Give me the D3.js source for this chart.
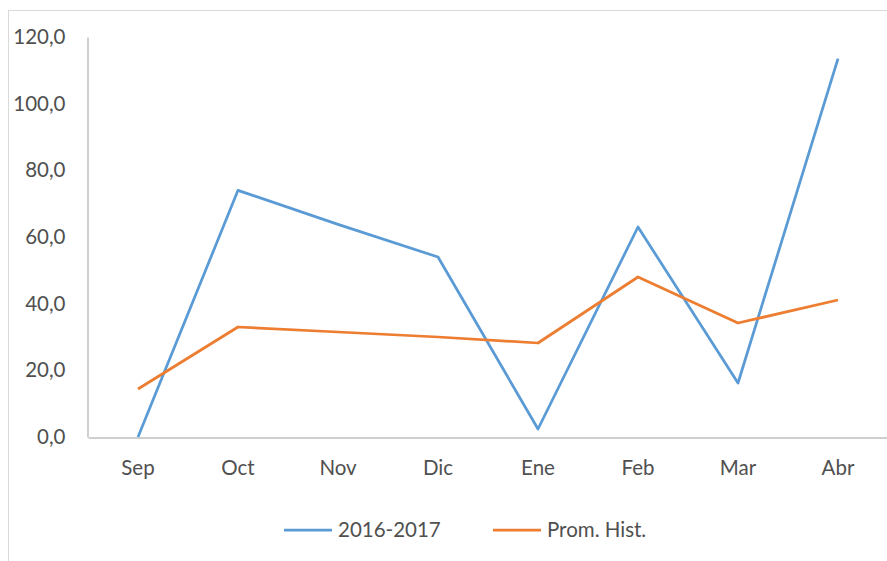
<!DOCTYPE html>
<html>
<head>
<meta charset="utf-8">
<script src="https://cdn.jsdelivr.net/npm/d3@7"></script>
<style>
  body { margin: 0; background: #fff; }
  svg { display: block; }
  text { font-family: Lato, "Open Sans", sans-serif; fill: #505050; }
</style>
</head>
<body>
<div id="chart"></div>
<script>
// data
var months = ["Sep", "Oct", "Nov", "Dic", "Ene", "Feb", "Mar", "Abr"];
var temporada = [0, 74, 63.8, 54, 2.4, 63, 16.2, 113.5];
var promHist = [14.4, 33, 31.5, 30, 28.2, 48, 34.2, 41.1];
var yTicks = [0, 20, 40, 60, 80, 100, 120];
var seriesNames = ["2016-2017", "Prom. Hist."];

var W = 887, H = 561;
var margin = {top: 37, right: -1, bottom: 124, left: 88};

var svg = d3.select("#chart").append("svg")
    .attr("width", W)
    .attr("height", H);

// chart frame (only top + left show in the crop)
svg.append("rect")
    .attr("x", 8.5).attr("y", 10.5)
    .attr("width", W + 20).attr("height", H + 20)
    .attr("fill", "none")
    .attr("stroke", "#d9d9d9");

var x = d3.scaleBand().domain(months).range([margin.left, W - margin.right]);
var y = d3.scaleLinear().domain([0, 120]).range([H - margin.bottom, margin.top]);

var fmt = function(d) { return d3.format(".1f")(d).replace(".", ","); };

// y axis
var yAxis = svg.append("g")
    .attr("transform", "translate(" + (margin.left - 0.5) + ",0)")
    .call(d3.axisLeft(y).tickValues(yTicks).tickFormat(fmt).tickSize(0).tickPadding(22));
yAxis.select(".domain").attr("stroke", "#bfbfbf").attr("stroke-width", 1.5);
yAxis.selectAll("text").style("font-size", "20.5px").attr("fill", "#505050");

// x axis
var xAxis = svg.append("g")
    .attr("transform", "translate(0," + (y(0) + 0.5) + ")")
    .call(d3.axisBottom(x).tickSize(0).tickPadding(23));
xAxis.select(".domain").attr("stroke", "#bfbfbf").attr("stroke-width", 1.5);
xAxis.selectAll("text").style("font-size", "20.5px").attr("fill", "#505050");

var line = d3.line()
    .x(function(d, i) { return x(months[i]) + x.bandwidth() / 2; })
    .y(function(d) { return y(d); });

svg.append("path")
    .datum(temporada)
    .attr("fill", "none")
    .attr("stroke", "#5b9bd5")
    .attr("stroke-width", 2.75)
    .attr("stroke-linejoin", "round")
    .attr("d", line);

svg.append("path")
    .datum(promHist)
    .attr("fill", "none")
    .attr("stroke", "#ed7d31")
    .attr("stroke-width", 2.75)
    .attr("stroke-linejoin", "round")
    .attr("d", line);

// legend
var legendColors = ["#5b9bd5", "#ed7d31"];
var legendX = [284, 493];
var legend = svg.selectAll(".legend")
    .data(seriesNames)
    .enter().append("g")
    .attr("class", "legend")
    .attr("transform", function(d, i) { return "translate(" + legendX[i] + ",530)"; });

legend.append("line")
    .attr("x1", 0).attr("x2", 48)
    .attr("stroke", function(d, i) { return legendColors[i]; })
    .attr("stroke-width", 2.75);

legend.append("text")
    .attr("x", 54)
    .attr("dy", "0.35em")
    .style("font-size", "20.5px")
    .text(function(d) { return d; });
</script>
</body>
</html>
